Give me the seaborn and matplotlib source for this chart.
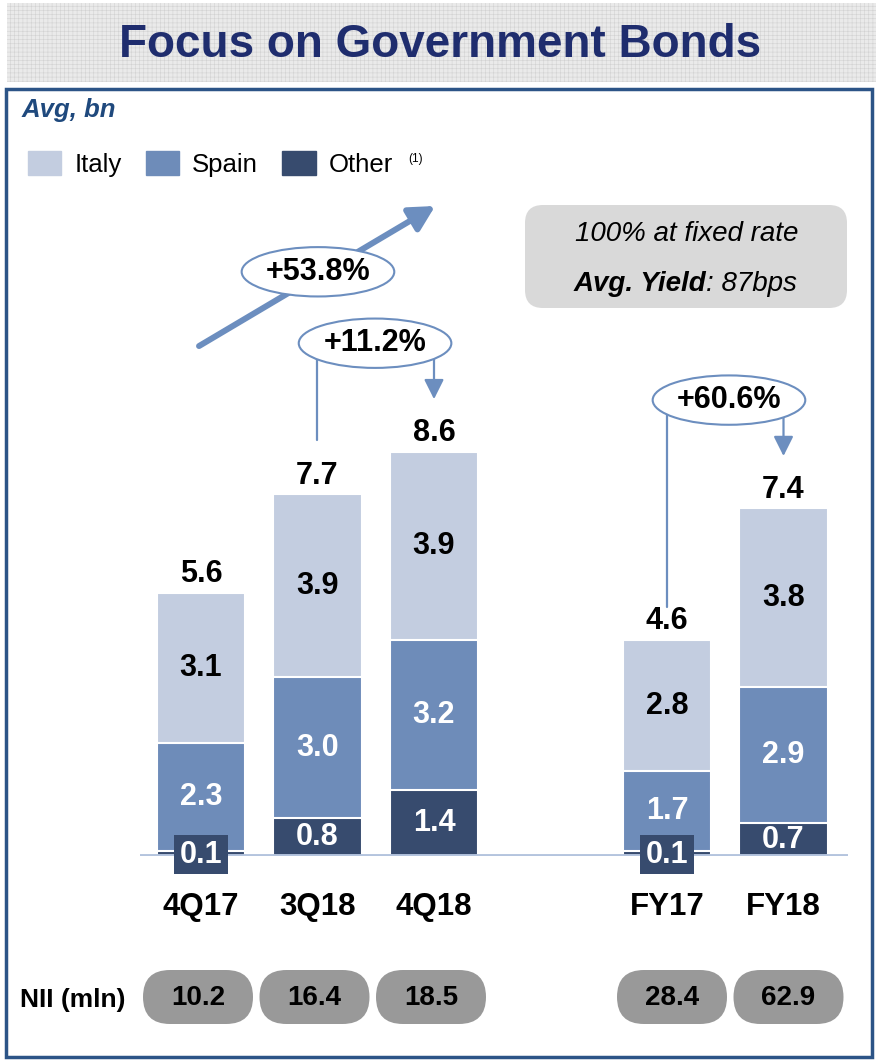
import matplotlib
matplotlib.use("Agg")
import matplotlib.pyplot as plt
import seaborn as sns
import pandas as pd
import numpy as np
from matplotlib.patches import Rectangle, FancyBboxPatch, Ellipse, Patch

# values
periods = ["4Q17", "3Q18", "4Q18", "FY17", "FY18"]
positions = [0, 1, 2, 4, 5]
italy = [3.1, 3.9, 3.9, 2.8, 3.8]
spain = [2.3, 3.0, 3.2, 1.7, 2.9]
other = [0.1, 0.8, 1.4, 0.1, 0.7]
totals = [5.6, 7.7, 8.6, 4.6, 7.4]
nii = [10.2, 16.4, 18.5, 28.4, 62.9]
growth_labels = ["+53.8%", "+11.2%", "+60.6%"]
legend_labels = ["Italy", "Spain", "Other"]

ITALY = "#C3CDE0"
SPAIN = "#6E8CB9"
OTHER = "#374B6E"
ARROW = "#6C8EBF"
NAVY = "#1F2D6E"

sns.set_style("white")
plt.rcParams["font.family"] = ["Liberation Sans", "DejaVu Sans"]
plt.rcParams["text.color"] = "black"
plt.rcParams["xtick.color"] = "black"
plt.rcParams["hatch.linewidth"] = 0.4

fig = plt.figure(figsize=(8.76, 10.61), dpi=100)

# background / decoration layer in pixel coords
deco = fig.add_axes([0, 0, 1, 1], zorder=0)
deco.set_xlim(0, 876)
deco.set_ylim(1061, 0)
deco.axis("off")

deco.add_patch(Rectangle((7, 3), 869, 79, fc="#EAEAEA", ec="#D2D2D2", hatch="++++", lw=0))
deco.text(440, 45, "Focus on Government Bonds", ha="center", va="center",
          fontsize=33, fontweight="bold", color=NAVY)
deco.add_patch(Rectangle((6, 89), 866, 968, fill=False, ec="#2C5487", lw=2.5))
deco.text(22, 110, "Avg, bn", ha="left", va="center", fontsize=18.5,
          fontweight="bold", fontstyle="italic", color="#1F497D")

deco.add_patch(FancyBboxPatch((525, 205), 322, 103, boxstyle="round,pad=0,rounding_size=18",
                              fc="#D9D9D9", ec="none"))
deco.text(687, 234, "100% at fixed rate", ha="center", va="center", fontsize=20,
          fontstyle="italic")
deco.text(706, 284, "Avg. Yield", ha="right", va="center", fontsize=20,
          fontstyle="italic", fontweight="bold")
deco.text(706, 284, ": 87bps", ha="left", va="center", fontsize=20, fontstyle="italic")

handles = [Patch(color=c) for c in (ITALY, SPAIN, OTHER)]
fig.legend(handles, legend_labels, loc="upper left", bbox_to_anchor=(28 / 876, 1 - 151 / 1061),
           ncol=3, frameon=False, fontsize=18.5, handlelength=1.3, handleheight=1.05,
           handletextpad=0.5, columnspacing=0.95, borderpad=0, borderaxespad=0)
deco.text(408, 159, "(1)", ha="left", va="center", fontsize=8.5)

# bar layer: 47 px per bn, 116.5 px between slots, baseline at y=856 px
ax = fig.add_axes([0, 205 / 1061, 1, 756 / 1061], zorder=1)
ax.patch.set_alpha(0)

df = pd.DataFrame({
    "pos": positions,
    "total": totals,
    "spain_cum": np.add(other, spain),
    "other": other,
})
for col, colr in [("total", ITALY), ("spain_cum", SPAIN), ("other", OTHER)]:
    sns.barplot(data=df, x="pos", y=col, native_scale=True, width=0.76, color=colr,
                saturation=1, errorbar=None, edgecolor="white", linewidth=1.5, ax=ax)

ax.set_xlim(-201 / 116.5, 675 / 116.5)
ax.set_ylim(0, 756 / 47)
ax.set_xticks(positions, periods, fontsize=22.5, fontweight="bold")
ax.tick_params(axis="x", length=0, pad=26)
ax.set_yticks([])
ax.set_xlabel("")
ax.set_ylabel("")
sns.despine(ax=ax, left=True, bottom=True)
ax.hlines(0, -0.52, 5.55, color="#B4C4DE", lw=2.8, zorder=4)

for p, it, sp, ot, tot in zip(positions, italy, spain, other, totals):
    ax.text(p, tot + 0.22, f"{tot:.1f}", ha="center", va="baseline", fontsize=22, fontweight="bold")
    ax.text(p, (ot + sp + tot) / 2, f"{it:.1f}", ha="center", va="center", fontsize=22, fontweight="bold")
    ax.text(p, ot + sp / 2, f"{sp:.1f}", ha="center", va="center", fontsize=22,
            fontweight="bold", color="white")
    if ot < 0.3:
        ax.add_patch(Rectangle((p - 0.232, -0.385), 0.464, 0.83, fc=OTHER, ec="none",
                               clip_on=False, zorder=5))
        ax.text(p, 0.03, f"{ot:.1f}", ha="center", va="center", fontsize=22,
                fontweight="bold", color="white", zorder=6, clip_on=False)
    else:
        ax.text(p, ot / 2, f"{ot:.1f}", ha="center", va="center", fontsize=22,
                fontweight="bold", color="white")

# growth call-outs
def bubble(x, y, label):
    ax.add_patch(Ellipse((x, y), 1.31, 1.05, fc="white", ec=ARROW, lw=1.5, zorder=6))
    ax.text(x, y, label, ha="center", va="center", fontsize=22, fontweight="bold", zorder=7)

ax.annotate("", xy=(2.01, 13.83), xytext=(-0.017, 10.85),
            arrowprops=dict(arrowstyle="-|>,head_length=1.5,head_width=0.8", lw=4.3,
                            color=ARROW, shrinkA=0, shrinkB=0), zorder=5)
bubble(1.004, 12.43, growth_labels[0])

ax.plot([positions[1], positions[1]], [totals[1] + 1.15, 10.91], color=ARROW, lw=1.6, zorder=5)
ax.annotate("", xy=(positions[2], totals[2] + 1.12), xytext=(positions[2], 10.91),
            arrowprops=dict(arrowstyle="-|>,head_length=1.2,head_width=0.6", lw=1.6,
                            color=ARROW, shrinkA=0, shrinkB=0), zorder=5)
bubble(1.494, 10.91, growth_labels[1])

ax.plot([positions[3], positions[3]], [totals[3] + 0.7, 9.70], color=ARROW, lw=1.6, zorder=5)
ax.annotate("", xy=(positions[4], totals[4] + 1.11), xytext=(positions[4], 9.70),
            arrowprops=dict(arrowstyle="-|>,head_length=1.2,head_width=0.6", lw=1.6,
                            color=ARROW, shrinkA=0, shrinkB=0), zorder=5)
bubble(4.532, 9.70, growth_labels[2])

# NII pills under each bar
deco.text(20, 1000, "NII (mln)", ha="left", va="center", fontsize=19, fontweight="bold")
for p, v in zip(positions, nii):
    xc = ax.transData.transform((p, 0))[0] + (-3 if p < 3 else 5)
    deco.add_patch(FancyBboxPatch((xc - 55, 970), 110, 54, boxstyle="round,pad=0,rounding_size=27",
                                  fc="#999999", ec="none"))
    deco.text(xc, 998, f"{v:.1f}", ha="center", va="center", fontsize=20, fontweight="bold")

fig.savefig("out.png", dpi=100)
